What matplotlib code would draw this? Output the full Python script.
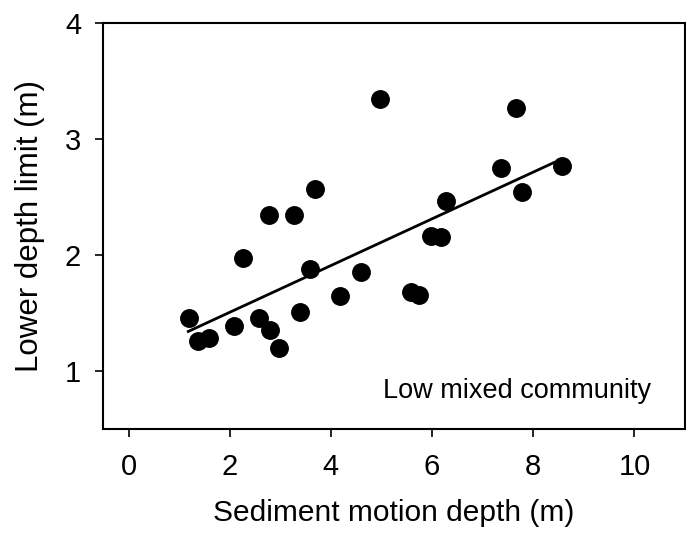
import numpy as np
import matplotlib
matplotlib.use("Agg")
import matplotlib.pyplot as plt

plt.rcParams['font.family'] = ['Liberation Sans', 'DejaVu Sans']

# Data
sediment_depth = [1.19, 1.37, 1.59, 2.08, 2.26, 2.58, 2.79, 2.77, 2.98, 3.27,
                  3.38, 3.58, 3.68, 4.18, 4.59, 4.97, 5.59, 5.75, 5.98, 6.18,
                  6.28, 7.37, 7.66, 7.77, 8.56]
lower_limit = [1.46, 1.26, 1.29, 1.39, 1.98, 1.46, 1.36, 2.35, 1.20, 2.35,
               1.51, 1.88, 2.57, 1.65, 1.86, 3.35, 1.68, 1.66, 2.17, 2.16,
               2.47, 2.75, 3.27, 2.55, 2.77]

# Regression line (as drawn in the reference)
fit_x = [1.18, 8.41]
fit_slope = 0.2014
fit_intercept = 1.106

x_ticks = [0, 2, 4, 6, 8, 10]
y_ticks = [1, 2, 3, 4]
annotation = "Low mixed community"

fig = plt.figure(figsize=(6.86, 5.35), dpi=100)
ax = fig.add_axes([103.3/686, 1 - 429.3/535, (685 - 103.3)/686, (429.3 - 23.3)/535])

ax.scatter(sediment_depth, lower_limit, s=185, color='black', zorder=3, linewidths=0)
fx = np.array(fit_x)
ax.plot(fx, fit_intercept + fit_slope * fx, color='black', lw=2.0, zorder=2)

ax.set_xlim(-0.5, 11)
ax.set_ylim(0.5, 4)
ax.set_xticks(x_ticks)
ax.set_yticks(y_ticks)
ax.tick_params(direction='out', length=6, width=1.2, labelsize=21)
ax.tick_params(axis='x', pad=11)
ax.tick_params(axis='y', pad=10)
for s in ax.spines.values():
    s.set_linewidth(1.5)

ax.set_xlabel("Sediment motion depth (m)", fontsize=21.5, labelpad=13)
ax.set_ylabel("Lower depth limit (m)", fontsize=22.5, labelpad=14)
ax.text(5.035, 0.772, annotation, fontsize=19.5, ha='left', va='baseline')

fig.savefig("out.png", dpi=100)
